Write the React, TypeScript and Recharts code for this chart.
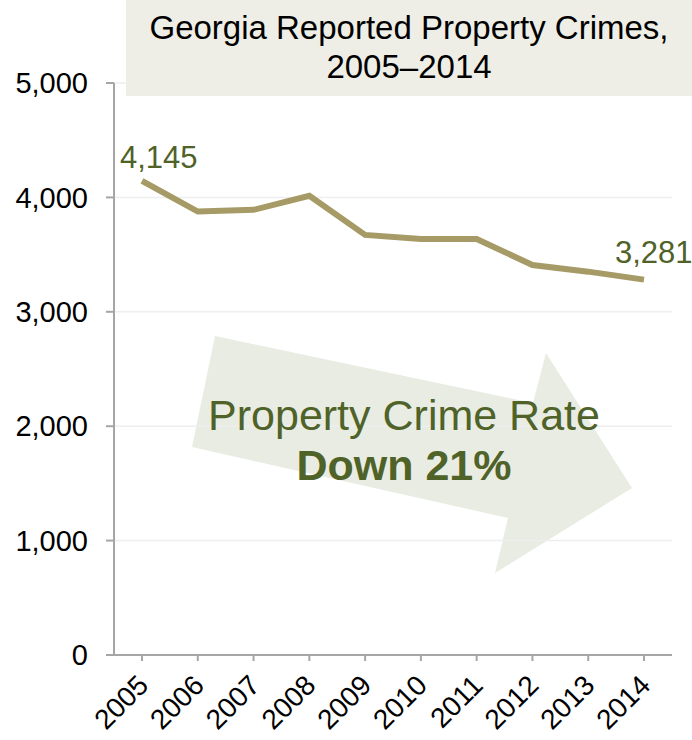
import { LineChart, Line, XAxis, YAxis, CartesianGrid, LabelList } from 'recharts'

const years = ['2005', '2006', '2007', '2008', '2009', '2010', '2011', '2012', '2013', '2014']
const crimeRate = [4145, 3876, 3891, 4014, 3672, 3637, 3637, 3409, 3351, 3281]
const yTicks = [0, 1000, 2000, 3000, 4000, 5000]

const data = years.map((year, i) => ({ year, rate: crimeRate[i] }))

const FONT = '"Liberation Sans", Arial, sans-serif'
const LINE_COLOR = '#a69b66'
const LABEL_GREEN = '#4f6228'
const AXIS_GRAY = '#a6a6a6'

function XTick({ x, y, payload }: any) {
  return (
    <g transform={`translate(${x + 1},${y + 17})`}>
      <text x={0} y={0} dy="0.35em" textAnchor="end" transform="rotate(-45)"
        fontSize={28} fontFamily={FONT} fill="#000">
        {payload.value}
      </text>
    </g>
  )
}

// only the first and last points carry a value label
function EndLabel({ x, y, value, index }: any) {
  if (index === 0) {
    return (
      <text x={x - 22} y={y - 13} fontSize={31} fontFamily={FONT} fill={LABEL_GREEN}>
        {Number(value).toLocaleString('en-US')}
      </text>
    )
  }
  if (index === crimeRate.length - 1) {
    return (
      <text x={x - 29} y={y - 17} fontSize={31} fontFamily={FONT} fill={LABEL_GREEN}>
        {Number(value).toLocaleString('en-US')}
      </text>
    )
  }
  return null
}

export default function App() {
  return (
    <div style={{ position: 'absolute', left: 0, top: 0, width: 692, height: 740, background: '#fff', fontFamily: FONT }}>
      {/* big trend arrow behind the chart text */}
      <svg width={692} height={740} style={{ position: 'absolute', left: 0, top: 0 }}>
        <polygon
          points="215,336 533,403 546,353 632,488 495,573 508,518 192,447"
          fill="#e9ece3"
        />
      </svg>

      <div style={{ position: 'absolute', left: 0, top: 0 }}>
        <LineChart width={692} height={740} data={data} margin={{ top: 83, right: 20, bottom: 0, left: 0 }}>
          <CartesianGrid vertical={false} stroke="#eeeeee" strokeWidth={1.5} />
          <XAxis
            dataKey="year"
            height={85}
            padding={{ left: 28, right: 28 }}
            interval={0}
            tick={<XTick />}
            tickSize={6}
            tickMargin={2}
            axisLine={{ stroke: AXIS_GRAY, strokeWidth: 2 }}
            tickLine={{ stroke: AXIS_GRAY, strokeWidth: 2 }}
          />
          <YAxis
            width={114}
            domain={[0, 5000]}
            ticks={yTicks}
            interval={0}
            tickSize={8}
            tickMargin={18}
            tickFormatter={(v: number) => v.toLocaleString('en-US')}
            tick={{ fontSize: 29, fontFamily: FONT, fill: '#000' }}
            axisLine={{ stroke: AXIS_GRAY, strokeWidth: 2 }}
            tickLine={{ stroke: AXIS_GRAY, strokeWidth: 2 }}
          />
          <Line
            type="linear"
            dataKey="rate"
            stroke={LINE_COLOR}
            strokeWidth={6}
            dot={false}
            isAnimationActive={false}
          >
            <LabelList dataKey="rate" content={<EndLabel />} />
          </Line>
        </LineChart>
      </div>

      <div style={{
        position: 'absolute', left: 404, top: 390, transform: 'translateX(-50%)',
        whiteSpace: 'nowrap', textAlign: 'center', color: LABEL_GREEN, fontSize: 43, lineHeight: '50px',
      }}>
        <div>Property Crime Rate</div>
        <div style={{ fontWeight: 'bold' }}>Down 21%</div>
      </div>

      <div style={{
        position: 'absolute', left: 126, top: 0, width: 566, height: 96, background: '#eeeee6',
        textAlign: 'center', fontSize: 33, lineHeight: '39px', color: '#000', paddingTop: 8, boxSizing: 'border-box',
      }}>
        <div>Georgia Reported Property Crimes,</div>
        <div>2005–2014</div>
      </div>
    </div>
  )
}
